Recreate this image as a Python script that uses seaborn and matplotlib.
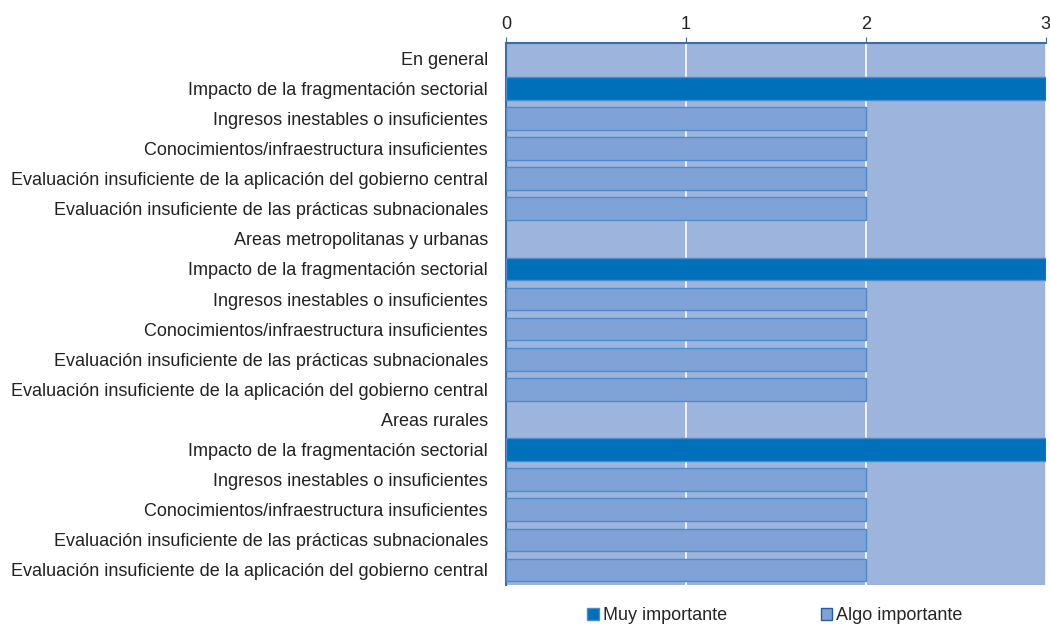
import pandas as pd
import numpy as np
import matplotlib.pyplot as plt
import seaborn as sns
from matplotlib.ticker import FixedLocator

# rows from top to bottom
labels = [
    "En general",
    "Impacto de la fragmentación sectorial",
    "Ingresos inestables o insuficientes",
    "Conocimientos/infraestructura insuficientes",
    "Evaluación insuficiente de la aplicación del gobierno central",
    "Evaluación insuficiente de las prácticas subnacionales",
    "Areas metropolitanas y urbanas",
    "Impacto de la fragmentación sectorial",
    "Ingresos inestables o insuficientes",
    "Conocimientos/infraestructura insuficientes",
    "Evaluación insuficiente de las prácticas subnacionales",
    "Evaluación insuficiente de la aplicación del gobierno central",
    "Areas rurales",
    "Impacto de la fragmentación sectorial",
    "Ingresos inestables o insuficientes",
    "Conocimientos/infraestructura insuficientes",
    "Evaluación insuficiente de las prácticas subnacionales",
    "Evaluación insuficiente de la aplicación del gobierno central",
]
values = [0, 3, 2, 2, 2, 2, 0, 3, 2, 2, 2, 2, 0, 3, 2, 2, 2, 2]
levels = ["", "Muy importante", "Algo importante", "Algo importante",
          "Algo importante", "Algo importante",
          "", "Muy importante", "Algo importante", "Algo importante",
          "Algo importante", "Algo importante",
          "", "Muy importante", "Algo importante", "Algo importante",
          "Algo importante", "Algo importante"]

series = ["Muy importante", "Algo importante"]
colors = {"Muy importante": "#0070BA", "Algo importante": "#7FA3D6"}
edges = {"Muy importante": "#4F8ACB", "Algo importante": "#2A5C9E"}

df = pd.DataFrame({"row": [str(i) for i in range(len(labels))],
                   "value": values, "level": levels})
df = df[df["level"] != ""]

sns.set_style("white")
plt.rcParams["font.family"] = ["Liberation Sans", "DejaVu Sans"]

fig = plt.figure(figsize=(10.5, 6.25), dpi=100)
ax = fig.add_axes([0.482, 0.064, 0.514, 0.867])
ax.set_facecolor("#9DB4DC")

order = [str(i) for i in range(len(labels))]
sns.barplot(data=df, x="value", y="row", hue="level", order=order,
            hue_order=series, palette=colors, dodge=False, width=0.75,
            saturation=1, orient="h", ax=ax, legend=False)

for bar, lvl in zip(ax.patches, [s for s in series for _ in order]):
    bar.set_edgecolor(edges[lvl])
    bar.set_linewidth(1.0)
    bar.set_zorder(3)

ax.set_xlim(0, 3)
ax.set_ylim(len(labels) - 0.5, -0.5)
ax.xaxis.tick_top()
ax.set_xticks([0, 1, 2, 3])
ax.tick_params(axis="x", direction="out", length=4, color="#3A6EA5",
               labelsize=13, labelcolor="#222222", pad=3)
ax.grid(axis="x", color="white", linewidth=1.2)
ax.set_axisbelow(True)

ax.set_yticks(range(len(labels)))
ax.set_yticklabels(labels, fontsize=13, color="#222222")
ax.tick_params(axis="y", which="major", length=0, pad=13)
ax.yaxis.set_minor_locator(FixedLocator(np.arange(-0.5, len(labels), 1)))
ax.tick_params(axis="y", which="minor", direction="out", length=4,
               color="#3A6EA5")
ax.set_xlabel("")
ax.set_ylabel("")

for side in ["right", "bottom"]:
    ax.spines[side].set_visible(False)
for side in ["top", "left"]:
    ax.spines[side].set_color("#3A6EA5")
    ax.spines[side].set_linewidth(1.5)

handles = [plt.Rectangle((0, 0), 1, 1, facecolor=colors[s], edgecolor=edges[s])
           for s in series]
fig.legend(handles, series, loc="lower center", bbox_to_anchor=(0.738, -0.025),
           ncol=2, frameon=False, fontsize=13, handlelength=0.65,
           handleheight=0.65, handletextpad=0.2, columnspacing=5.2)

fig.savefig("out.png", dpi=100)
